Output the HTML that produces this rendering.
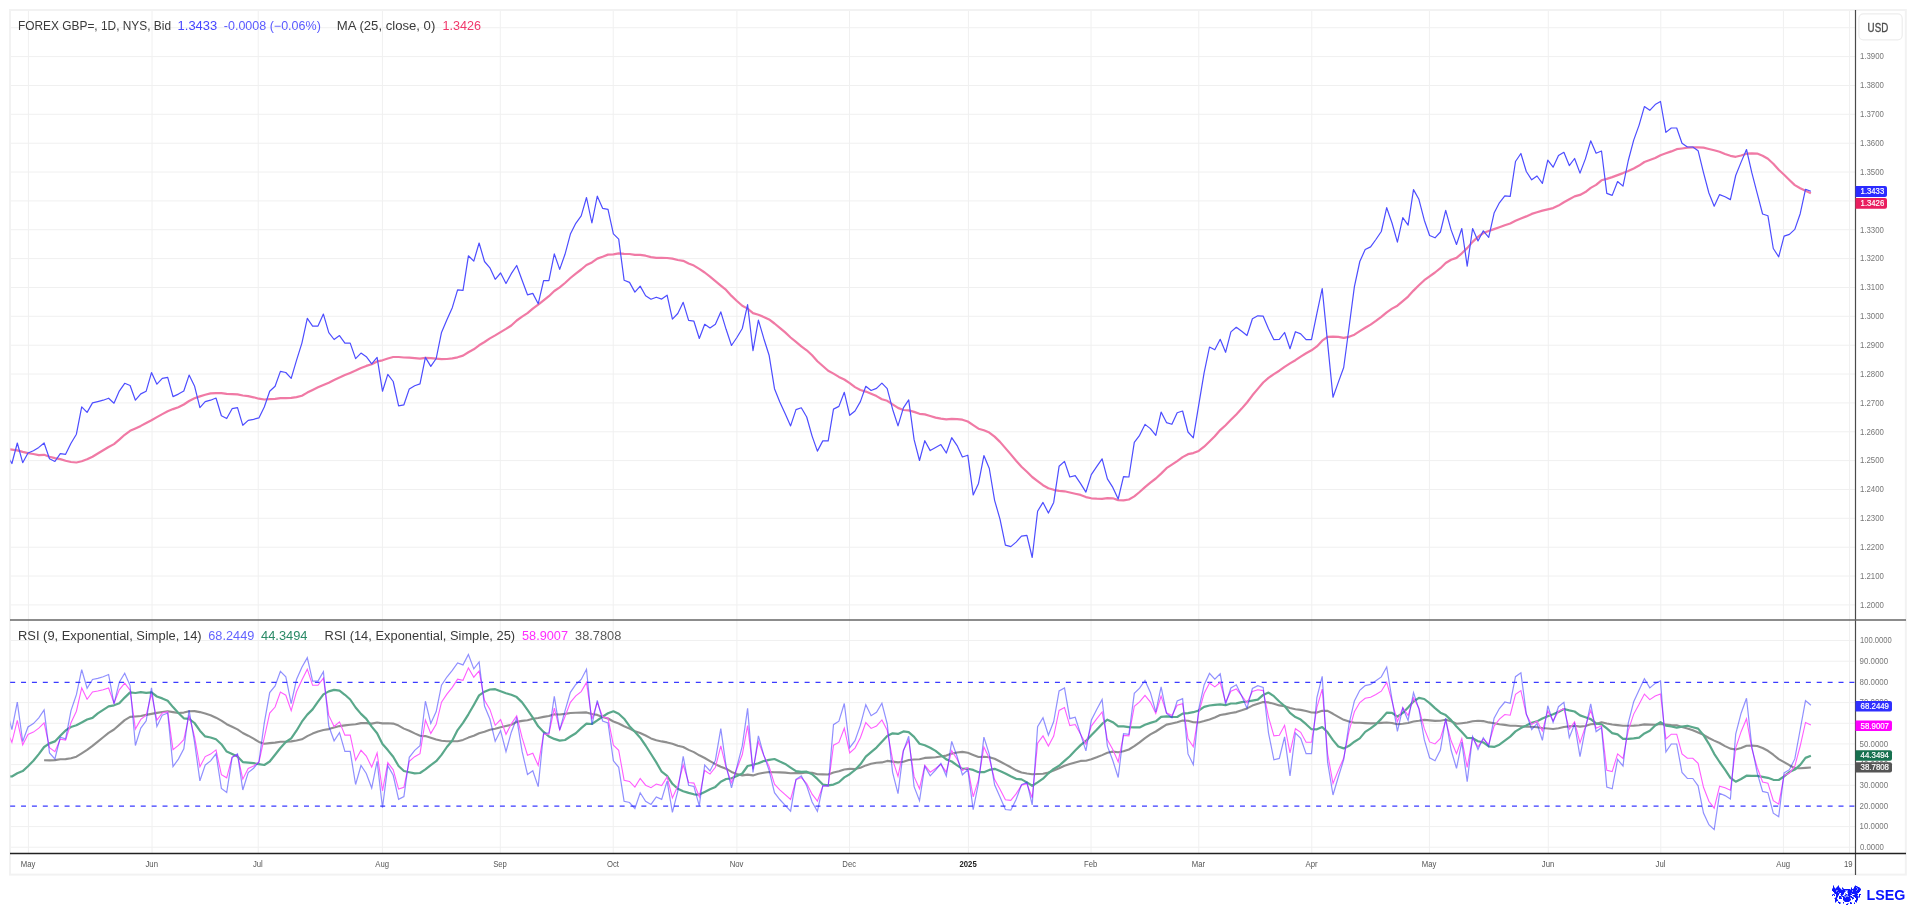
<!DOCTYPE html>
<html><head><meta charset="utf-8"><style>
html,body{margin:0;padding:0;background:#fff;width:1916px;height:905px;overflow:hidden}
svg{display:block} text{opacity:0.995}
</style></head><body>
<svg width="1916" height="905" viewBox="0 0 1916 905">
<rect x="10" y="10" width="1895.8" height="864.6" fill="none" stroke="#f2f2f2" stroke-width="2"/>
<line x1="28.4" y1="11" x2="28.4" y2="853" stroke="#f0f0f0" stroke-width="1"/>
<line x1="152.0" y1="11" x2="152.0" y2="853" stroke="#f0f0f0" stroke-width="1"/>
<line x1="258.2" y1="11" x2="258.2" y2="853" stroke="#f0f0f0" stroke-width="1"/>
<line x1="382.4" y1="11" x2="382.4" y2="853" stroke="#f0f0f0" stroke-width="1"/>
<line x1="500.3" y1="11" x2="500.3" y2="853" stroke="#f0f0f0" stroke-width="1"/>
<line x1="613.2" y1="11" x2="613.2" y2="853" stroke="#f0f0f0" stroke-width="1"/>
<line x1="736.9" y1="11" x2="736.9" y2="853" stroke="#f0f0f0" stroke-width="1"/>
<line x1="849.5" y1="11" x2="849.5" y2="853" stroke="#f0f0f0" stroke-width="1"/>
<line x1="968.4" y1="11" x2="968.4" y2="853" stroke="#f0f0f0" stroke-width="1"/>
<line x1="1091.0" y1="11" x2="1091.0" y2="853" stroke="#f0f0f0" stroke-width="1"/>
<line x1="1198.8" y1="11" x2="1198.8" y2="853" stroke="#f0f0f0" stroke-width="1"/>
<line x1="1311.8" y1="11" x2="1311.8" y2="853" stroke="#f0f0f0" stroke-width="1"/>
<line x1="1429.4" y1="11" x2="1429.4" y2="853" stroke="#f0f0f0" stroke-width="1"/>
<line x1="1548.3" y1="11" x2="1548.3" y2="853" stroke="#f0f0f0" stroke-width="1"/>
<line x1="1660.8" y1="11" x2="1660.8" y2="853" stroke="#f0f0f0" stroke-width="1"/>
<line x1="1783.4" y1="11" x2="1783.4" y2="853" stroke="#f0f0f0" stroke-width="1"/>
<line x1="1849.5" y1="11" x2="1849.5" y2="853" stroke="#f0f0f0" stroke-width="1"/>
<line x1="11" y1="604.9" x2="1855" y2="604.9" stroke="#f0f0f0" stroke-width="1"/>
<line x1="11" y1="576.0" x2="1855" y2="576.0" stroke="#f0f0f0" stroke-width="1"/>
<line x1="11" y1="547.2" x2="1855" y2="547.2" stroke="#f0f0f0" stroke-width="1"/>
<line x1="11" y1="518.3" x2="1855" y2="518.3" stroke="#f0f0f0" stroke-width="1"/>
<line x1="11" y1="489.5" x2="1855" y2="489.5" stroke="#f0f0f0" stroke-width="1"/>
<line x1="11" y1="460.6" x2="1855" y2="460.6" stroke="#f0f0f0" stroke-width="1"/>
<line x1="11" y1="431.8" x2="1855" y2="431.8" stroke="#f0f0f0" stroke-width="1"/>
<line x1="11" y1="402.9" x2="1855" y2="402.9" stroke="#f0f0f0" stroke-width="1"/>
<line x1="11" y1="374.0" x2="1855" y2="374.0" stroke="#f0f0f0" stroke-width="1"/>
<line x1="11" y1="345.2" x2="1855" y2="345.2" stroke="#f0f0f0" stroke-width="1"/>
<line x1="11" y1="316.3" x2="1855" y2="316.3" stroke="#f0f0f0" stroke-width="1"/>
<line x1="11" y1="287.5" x2="1855" y2="287.5" stroke="#f0f0f0" stroke-width="1"/>
<line x1="11" y1="258.6" x2="1855" y2="258.6" stroke="#f0f0f0" stroke-width="1"/>
<line x1="11" y1="229.7" x2="1855" y2="229.7" stroke="#f0f0f0" stroke-width="1"/>
<line x1="11" y1="200.9" x2="1855" y2="200.9" stroke="#f0f0f0" stroke-width="1"/>
<line x1="11" y1="172.0" x2="1855" y2="172.0" stroke="#f0f0f0" stroke-width="1"/>
<line x1="11" y1="143.2" x2="1855" y2="143.2" stroke="#f0f0f0" stroke-width="1"/>
<line x1="11" y1="114.3" x2="1855" y2="114.3" stroke="#f0f0f0" stroke-width="1"/>
<line x1="11" y1="85.5" x2="1855" y2="85.5" stroke="#f0f0f0" stroke-width="1"/>
<line x1="11" y1="56.6" x2="1855" y2="56.6" stroke="#f0f0f0" stroke-width="1"/>
<line x1="11" y1="27.7" x2="1855" y2="27.7" stroke="#f0f0f0" stroke-width="1"/>
<line x1="11" y1="640.5" x2="1855" y2="640.5" stroke="#f0f0f0" stroke-width="1"/>
<line x1="11" y1="661.2" x2="1855" y2="661.2" stroke="#f0f0f0" stroke-width="1"/>
<line x1="11" y1="702.6" x2="1855" y2="702.6" stroke="#f0f0f0" stroke-width="1"/>
<line x1="11" y1="723.3" x2="1855" y2="723.3" stroke="#f0f0f0" stroke-width="1"/>
<line x1="11" y1="743.9" x2="1855" y2="743.9" stroke="#f0f0f0" stroke-width="1"/>
<line x1="11" y1="764.6" x2="1855" y2="764.6" stroke="#f0f0f0" stroke-width="1"/>
<line x1="11" y1="785.3" x2="1855" y2="785.3" stroke="#f0f0f0" stroke-width="1"/>
<line x1="11" y1="826.6" x2="1855" y2="826.6" stroke="#f0f0f0" stroke-width="1"/>
<line x1="11" y1="847.2" x2="1855" y2="847.2" stroke="#f0f0f0" stroke-width="1"/>
<line x1="10.16" y1="682.4" x2="1855" y2="682.4" stroke="#3b3bff" stroke-width="1.1" stroke-dasharray="5 5.883" />
<line x1="10.16" y1="806.1" x2="1855" y2="806.1" stroke="#3b3bff" stroke-width="1.1" stroke-dasharray="5 5.883" />
<defs><clipPath id="cm"><rect x="10.3" y="11" width="1844.7" height="608"/></clipPath><clipPath id="cr"><rect x="10.3" y="621" width="1844.7" height="231"/></clipPath></defs>
<polyline clip-path="url(#cm)" points="1.2,449.4 6.6,448.9 11.9,449.6 17.3,450.4 22.7,451.9 28.0,453.1 33.4,454.0 38.8,455.1 44.1,454.8 49.5,456.7 54.9,458.1 60.3,459.1 65.6,460.7 71.0,462.0 76.4,462.5 81.7,461.2 87.1,459.3 92.5,456.7 97.8,453.5 103.2,450.2 108.6,447.0 114.0,444.1 119.3,439.6 124.7,434.8 130.1,430.8 135.4,428.4 140.8,425.9 146.2,423.0 151.5,420.2 156.9,417.1 162.3,414.1 167.7,411.2 173.0,409.1 178.4,407.2 183.8,404.5 189.1,401.0 194.5,398.3 199.9,396.4 205.2,394.8 210.6,393.4 216.0,393.1 221.4,393.2 226.7,393.8 232.1,394.1 237.5,394.4 242.8,395.5 248.2,396.2 253.6,397.3 258.9,398.7 264.3,399.5 269.7,399.2 275.1,398.9 280.4,398.1 285.8,398.1 291.2,397.8 296.5,397.1 301.9,395.7 307.3,392.6 312.6,389.9 318.0,387.3 323.4,384.9 328.8,382.7 334.1,380.0 339.5,377.4 344.9,375.1 350.2,372.9 355.6,370.6 361.0,368.0 366.3,365.9 371.7,364.2 377.1,361.4 382.5,360.3 387.8,358.5 393.2,357.0 398.6,357.0 403.9,357.5 409.3,357.6 414.7,358.2 420.0,358.7 425.4,357.8 430.8,358.1 436.2,358.7 441.5,359.2 446.9,359.0 452.3,358.3 457.6,357.3 463.0,355.6 468.4,352.2 473.8,349.3 479.1,345.3 484.5,342.0 489.9,338.4 495.2,335.4 500.6,332.1 506.0,328.9 511.3,325.5 516.7,320.5 522.1,316.7 527.5,313.2 532.8,308.7 538.2,304.7 543.6,300.4 548.9,296.2 554.3,291.0 559.7,287.4 565.0,283.0 570.4,278.0 575.8,273.6 581.2,269.5 586.5,265.0 591.9,262.4 597.3,258.6 602.6,256.7 608.0,254.6 613.4,254.3 618.7,253.4 624.1,253.9 629.5,254.0 634.9,254.8 640.2,254.9 645.6,255.7 651.0,257.1 656.3,257.8 661.7,257.9 667.1,258.0 672.4,258.6 677.8,260.0 683.2,260.8 688.6,263.5 693.9,265.6 699.3,268.9 704.7,272.5 710.0,276.7 715.4,281.1 720.8,285.6 726.1,289.9 731.5,295.9 736.9,301.0 742.3,305.8 747.6,308.6 753.0,313.1 758.4,314.7 763.7,316.9 769.1,319.4 774.5,323.5 779.8,327.8 785.2,332.4 790.6,337.5 796.0,341.9 801.3,346.4 806.7,350.3 812.1,355.3 817.4,361.2 822.8,366.0 828.2,370.8 833.5,373.6 838.9,376.9 844.3,379.5 849.7,383.1 855.0,387.1 860.4,390.0 865.8,391.6 871.1,393.7 876.5,396.1 881.9,399.3 887.2,400.8 892.6,404.4 898.0,407.9 903.4,410.0 908.7,410.4 914.1,411.9 919.5,413.8 924.8,414.4 930.2,416.0 935.6,417.6 940.9,418.7 946.3,419.4 951.7,418.9 957.1,419.1 962.4,419.7 967.8,421.5 973.2,425.1 978.5,428.7 983.9,430.3 989.3,432.6 994.6,436.6 1000.0,441.9 1005.4,448.1 1010.8,454.4 1016.1,460.8 1021.5,466.7 1026.9,471.7 1032.2,477.0 1037.6,481.1 1043.0,485.2 1048.4,488.2 1053.7,489.8 1059.1,490.9 1064.5,491.3 1069.8,492.5 1075.2,493.7 1080.6,494.9 1085.9,497.1 1091.3,498.3 1096.7,498.7 1102.1,498.8 1107.4,498.2 1112.8,498.3 1118.2,500.1 1123.5,500.4 1128.9,499.5 1134.3,496.4 1139.6,492.0 1145.0,487.1 1150.4,482.6 1155.8,478.5 1161.1,473.6 1166.5,468.2 1171.9,464.7 1177.2,461.1 1182.6,457.1 1188.0,454.2 1193.3,453.1 1198.7,450.9 1204.1,446.7 1209.5,441.5 1214.8,436.2 1220.2,430.1 1225.6,425.2 1230.9,419.8 1236.3,414.5 1241.7,408.6 1247.0,402.5 1252.4,395.3 1257.8,388.9 1263.2,382.5 1268.5,377.9 1273.9,374.1 1279.3,370.7 1284.6,366.9 1290.0,363.4 1295.4,360.2 1300.7,356.6 1306.1,353.2 1311.5,350.3 1316.9,346.4 1322.2,340.7 1327.6,336.9 1333.0,336.6 1338.3,336.9 1343.7,337.8 1349.1,336.8 1354.4,334.7 1359.8,331.1 1365.2,327.8 1370.6,324.6 1375.9,320.9 1381.3,316.8 1386.7,312.3 1392.0,308.6 1397.4,305.7 1402.8,301.2 1408.1,296.6 1413.5,290.6 1418.9,285.3 1424.3,280.2 1429.6,276.3 1435.0,272.5 1440.4,268.2 1445.7,263.0 1451.1,259.7 1456.5,257.9 1461.8,253.3 1467.2,248.1 1472.6,241.9 1478.0,236.9 1483.3,233.0 1488.7,231.0 1494.1,229.1 1499.4,227.2 1504.8,225.2 1510.2,223.5 1515.5,220.7 1520.9,218.5 1526.3,216.4 1531.7,213.9 1537.0,212.3 1542.4,210.6 1547.8,209.4 1553.1,208.1 1558.5,205.6 1563.9,202.2 1569.3,199.3 1574.6,196.4 1580.0,194.9 1585.4,192.1 1590.7,187.9 1596.1,184.9 1601.5,180.3 1606.8,178.9 1612.2,177.1 1617.6,175.1 1623.0,173.1 1628.3,171.0 1633.7,168.4 1639.1,165.6 1644.4,162.0 1649.8,160.0 1655.2,158.0 1660.5,155.2 1665.9,153.3 1671.3,151.4 1676.7,149.2 1682.0,148.5 1687.4,147.7 1692.8,147.4 1698.1,147.3 1703.5,147.6 1708.9,149.0 1714.2,150.3 1719.6,151.7 1725.0,154.0 1730.4,155.8 1735.7,156.8 1741.1,155.5 1746.5,153.7 1751.8,153.3 1757.2,153.6 1762.6,155.8 1767.9,158.8 1773.3,163.7 1778.7,169.7 1784.1,174.8 1789.4,180.0 1794.8,185.1 1800.2,188.3 1805.5,190.8 1810.9,193.3" fill="none" stroke="#f07aa5" stroke-width="2.2" stroke-linejoin="round" stroke-linejoin="round"/>
<polyline clip-path="url(#cm)" points="6.6,455.0 11.9,463.5 17.3,443.0 22.7,462.7 28.0,453.0 33.4,450.7 38.8,447.4 44.1,443.0 49.5,458.7 54.9,461.5 60.3,453.7 65.6,454.3 71.0,443.2 76.4,434.2 81.7,406.9 87.1,412.4 92.5,402.9 97.8,401.6 103.2,400.2 108.6,398.2 114.0,403.2 119.3,391.1 124.7,383.3 130.1,385.5 135.4,400.2 140.8,393.9 146.2,391.2 151.5,372.6 156.9,384.2 162.3,378.3 167.7,377.3 173.0,396.6 178.4,394.1 183.8,391.0 189.1,375.1 194.5,385.9 199.9,407.6 205.2,401.7 210.6,400.2 216.0,398.0 221.4,415.7 226.7,418.5 232.1,408.7 237.5,407.6 242.8,425.3 248.2,420.4 253.6,419.3 258.9,417.9 264.3,407.0 269.7,391.2 275.1,386.2 280.4,371.4 285.8,372.5 291.2,378.3 296.5,360.3 301.9,343.1 307.3,318.4 312.6,326.1 318.0,326.1 323.4,314.1 328.8,332.7 334.1,339.5 339.5,335.6 344.9,343.1 350.2,343.1 355.6,358.6 361.0,353.1 366.3,356.7 371.7,363.9 377.1,357.4 382.5,391.2 387.8,374.4 393.2,381.5 398.6,405.9 403.9,404.8 409.3,388.9 414.7,385.7 420.0,383.9 425.4,357.4 430.8,366.4 436.2,358.5 441.5,332.4 446.9,319.8 452.3,307.7 457.6,289.8 463.0,290.4 468.4,255.8 473.8,261.1 479.1,243.0 484.5,261.5 489.9,267.8 495.2,279.3 500.6,273.0 506.0,283.5 511.3,273.7 516.7,265.5 522.1,280.2 527.5,294.8 532.8,293.4 538.2,303.8 543.6,280.6 548.9,280.6 554.3,253.9 559.7,269.4 565.0,254.3 570.4,234.1 575.8,223.3 581.2,215.9 586.5,197.5 591.9,223.0 597.3,196.2 602.6,208.3 608.0,209.4 613.4,233.8 618.7,239.1 624.1,280.2 629.5,282.4 634.9,292.1 640.2,286.1 645.6,295.7 651.0,299.2 656.3,297.2 661.7,299.1 667.1,295.2 672.4,319.2 677.8,313.5 683.2,302.3 688.6,320.4 693.9,321.2 699.3,338.5 704.7,324.3 710.0,327.9 715.4,324.3 720.8,311.9 726.1,329.3 731.5,345.5 736.9,337.5 742.3,328.5 747.6,304.7 753.0,350.6 758.4,320.1 763.7,338.2 769.1,355.2 774.5,388.7 779.8,402.0 785.2,413.7 790.6,425.9 796.0,409.6 801.3,407.8 806.7,417.0 812.1,436.1 817.4,451.1 822.8,440.9 828.2,440.9 833.5,409.1 838.9,406.4 844.3,392.3 849.7,415.3 855.0,411.0 860.4,401.6 865.8,386.3 871.1,390.5 876.5,388.4 881.9,383.1 887.2,388.7 892.6,409.2 898.0,425.9 903.4,407.8 908.7,399.9 914.1,439.7 919.5,460.5 924.8,440.7 930.2,450.6 935.6,447.6 940.9,444.6 946.3,453.0 951.7,437.7 957.1,445.6 962.4,457.0 967.8,455.2 973.2,494.9 978.5,483.4 983.9,455.6 989.3,468.5 994.6,500.3 1000.0,519.2 1005.4,545.1 1010.8,546.6 1016.1,542.1 1021.5,536.2 1026.9,535.3 1032.2,557.5 1037.6,511.2 1043.0,502.4 1048.4,513.1 1053.7,502.4 1059.1,466.3 1064.5,461.4 1069.8,477.0 1075.2,475.7 1080.6,483.6 1085.9,492.1 1091.3,474.6 1096.7,466.7 1102.1,458.8 1107.4,478.9 1112.8,487.4 1118.2,499.0 1123.5,476.7 1128.9,477.0 1134.3,442.3 1139.6,435.3 1145.0,424.4 1150.4,428.6 1155.8,435.3 1161.1,412.1 1166.5,422.6 1171.9,424.3 1177.2,412.7 1182.6,411.0 1188.0,432.0 1193.3,437.9 1198.7,405.2 1204.1,372.8 1209.5,347.0 1214.8,349.8 1220.2,339.3 1225.6,352.3 1230.9,331.9 1236.3,327.3 1241.7,331.3 1247.0,335.5 1252.4,318.7 1257.8,315.8 1263.2,316.2 1268.5,328.8 1273.9,339.7 1279.3,339.3 1284.6,332.5 1290.0,348.7 1295.4,331.7 1300.7,333.9 1306.1,339.7 1311.5,339.7 1316.9,313.4 1322.2,288.5 1327.6,342.9 1333.0,397.2 1338.3,382.4 1343.7,367.5 1349.1,327.0 1354.4,286.7 1359.8,261.5 1365.2,249.5 1370.6,246.9 1375.9,239.5 1381.3,231.5 1386.7,207.7 1392.0,223.0 1397.4,242.1 1402.8,217.7 1408.1,225.2 1413.5,189.6 1418.9,199.3 1424.3,220.2 1429.6,235.5 1435.0,237.8 1440.4,232.0 1445.7,210.4 1451.1,229.9 1456.5,244.5 1461.8,228.5 1467.2,266.1 1472.6,228.5 1478.0,241.0 1483.3,230.8 1488.7,237.3 1494.1,213.1 1499.4,202.8 1504.8,195.8 1510.2,196.3 1515.5,161.5 1520.9,153.5 1526.3,171.5 1531.7,179.8 1537.0,176.0 1542.4,183.4 1547.8,160.1 1553.1,167.2 1558.5,155.6 1563.9,152.3 1569.3,165.6 1574.6,158.5 1580.0,173.1 1585.4,158.9 1590.7,140.8 1596.1,153.2 1601.5,151.0 1606.8,193.4 1612.2,195.4 1617.6,181.5 1623.0,186.1 1628.3,160.5 1633.7,140.1 1639.1,125.1 1644.4,106.6 1649.8,110.3 1655.2,104.6 1660.5,101.5 1665.9,132.4 1671.3,128.0 1676.7,128.0 1682.0,143.2 1687.4,147.0 1692.8,147.0 1698.1,150.7 1703.5,172.6 1708.9,193.0 1714.2,206.2 1719.6,194.6 1725.0,196.8 1730.4,199.6 1735.7,175.5 1741.1,162.1 1746.5,149.5 1751.8,172.7 1757.2,193.3 1762.6,214.0 1767.9,215.7 1773.3,248.5 1778.7,256.8 1784.1,236.1 1789.4,234.4 1794.8,229.4 1800.2,213.7 1805.5,189.3 1810.9,191.3" fill="none" stroke="#4d4dff" stroke-width="1.2" stroke-linejoin="round"/>
<polyline clip-path="url(#cr)" points="44.1,760.3 49.5,760.4 54.9,760.1 60.3,759.2 65.6,759.1 71.0,758.3 76.4,756.7 81.7,753.4 87.1,749.9 92.5,745.9 97.8,741.6 103.2,737.2 108.6,732.9 114.0,729.5 119.3,724.9 124.7,720.1 130.1,716.9 135.4,716.5 140.8,716.0 146.2,714.9 151.5,713.9 156.9,712.9 162.3,712.0 167.7,711.2 173.0,712.1 178.4,713.0 183.8,712.6 189.1,711.2 194.5,711.1 199.9,712.1 205.2,713.5 210.6,715.2 216.0,717.7 221.4,720.7 226.7,724.2 232.1,726.8 237.5,729.4 242.8,733.0 248.2,735.7 253.6,738.7 258.9,741.9 264.3,743.8 269.7,743.1 275.1,742.6 280.4,741.7 285.8,741.8 291.2,741.4 296.5,740.5 301.9,739.3 307.3,736.1 312.6,733.6 318.0,731.5 323.4,730.0 328.8,729.1 334.1,727.5 339.5,726.1 344.9,725.4 350.2,724.8 355.6,724.2 361.0,723.1 366.3,723.1 371.7,723.6 377.1,722.5 382.5,723.4 387.8,723.3 393.2,723.6 398.6,725.6 403.9,728.6 409.3,730.8 414.7,733.4 420.0,735.7 425.4,736.1 430.8,737.7 436.2,739.5 441.5,740.8 446.9,741.2 452.3,741.3 457.6,741.3 463.0,739.9 468.4,737.6 473.8,735.8 479.1,733.2 484.5,731.8 489.9,729.8 495.2,728.8 500.6,727.3 506.0,726.0 511.3,724.8 516.7,721.9 522.1,720.9 527.5,720.3 532.8,718.8 538.2,718.0 543.6,716.9 548.9,716.0 554.3,714.2 559.7,714.5 565.0,713.9 570.4,713.0 575.8,712.7 581.2,712.6 586.5,712.4 591.9,714.0 597.3,714.9 602.6,716.9 608.0,718.5 613.4,721.5 618.7,723.5 624.1,726.3 629.5,728.6 634.9,731.3 640.2,733.0 645.6,735.5 651.0,738.4 656.3,740.2 661.7,741.4 667.1,742.4 672.4,743.7 677.8,745.7 683.2,747.0 688.6,749.9 693.9,752.1 699.3,755.3 704.7,758.0 710.0,761.1 715.4,764.2 720.8,766.7 726.1,768.7 731.5,771.9 736.9,773.9 742.3,775.4 747.6,774.6 753.0,775.4 758.4,773.8 763.7,772.8 769.1,772.0 774.5,772.2 779.8,772.4 785.2,772.6 790.6,773.3 796.0,773.0 801.3,773.1 806.7,772.5 812.1,772.8 817.4,774.3 822.8,774.4 828.2,774.5 833.5,772.5 838.9,771.3 844.3,769.5 849.7,768.9 855.0,769.0 860.4,767.8 865.8,765.4 871.1,763.8 876.5,762.7 881.9,762.4 887.2,760.9 892.6,761.6 898.0,762.4 903.4,761.8 908.7,760.0 914.1,759.5 919.5,759.3 924.8,757.9 930.2,757.6 935.6,757.2 940.9,756.5 946.3,755.6 951.7,753.6 957.1,752.5 962.4,751.9 967.8,752.8 973.2,754.9 978.5,757.0 983.9,756.8 989.3,757.2 994.6,758.8 1000.0,761.5 1005.4,764.4 1010.8,767.3 1016.1,770.3 1021.5,772.5 1026.9,773.5 1032.2,774.3 1037.6,774.0 1043.0,773.8 1048.4,772.6 1053.7,770.5 1059.1,768.3 1064.5,765.7 1069.8,764.0 1075.2,762.4 1080.6,760.9 1085.9,760.7 1091.3,759.3 1096.7,757.3 1102.1,755.1 1107.4,752.8 1112.8,751.6 1118.2,752.2 1123.5,751.2 1128.9,749.5 1134.3,746.2 1139.6,742.3 1145.0,738.1 1150.4,734.4 1155.8,731.5 1161.1,728.0 1166.5,724.6 1171.9,723.5 1177.2,722.3 1182.6,720.6 1188.0,720.7 1193.3,722.2 1198.7,722.4 1204.1,721.1 1209.5,719.4 1214.8,717.5 1220.2,715.0 1225.6,714.1 1230.9,713.0 1236.3,712.1 1241.7,710.3 1247.0,708.4 1252.4,705.6 1257.8,703.8 1263.2,702.0 1268.5,702.4 1273.9,703.8 1279.3,705.4 1284.6,706.3 1290.0,707.9 1295.4,709.2 1300.7,709.9 1306.1,711.0 1311.5,712.5 1316.9,712.6 1322.2,710.7 1327.6,710.9 1333.0,713.8 1338.3,716.8 1343.7,719.8 1349.1,721.6 1354.4,722.8 1359.8,722.8 1365.2,723.1 1370.6,723.4 1375.9,723.3 1381.3,722.9 1386.7,722.5 1392.0,723.0 1397.4,724.2 1402.8,723.8 1408.1,723.0 1413.5,721.5 1418.9,720.8 1424.3,719.9 1429.6,720.4 1435.0,720.9 1440.4,720.7 1445.7,719.8 1451.1,721.2 1456.5,723.8 1461.8,723.2 1467.2,722.5 1472.6,721.2 1478.0,720.8 1483.3,721.1 1488.7,722.4 1494.1,723.3 1499.4,724.2 1504.8,724.9 1510.2,725.7 1515.5,725.8 1520.9,726.2 1526.3,726.7 1531.7,726.8 1537.0,727.3 1542.4,728.0 1547.8,728.5 1553.1,729.0 1558.5,728.3 1563.9,727.0 1569.3,726.4 1574.6,725.7 1580.0,726.6 1585.4,726.0 1590.7,724.3 1596.1,723.9 1601.5,722.2 1606.8,723.5 1612.2,724.5 1617.6,725.1 1623.0,725.7 1628.3,725.8 1633.7,725.6 1639.1,725.2 1644.4,724.4 1649.8,724.6 1655.2,724.8 1660.5,724.0 1665.9,724.6 1671.3,725.1 1676.7,725.2 1682.0,726.9 1687.4,728.4 1692.8,730.3 1698.1,732.5 1703.5,734.8 1708.9,738.0 1714.2,740.6 1719.6,743.0 1725.0,746.1 1730.4,748.6 1735.7,749.5 1741.1,747.9 1746.5,745.8 1751.8,745.6 1757.2,746.0 1762.6,748.0 1767.9,750.8 1773.3,754.7 1778.7,759.1 1784.1,762.1 1789.4,765.2 1794.8,768.1 1800.2,768.3 1805.5,767.9 1810.9,767.5" fill="none" stroke="#8f8f8f" stroke-width="2.1" stroke-linejoin="round"/>
<polyline clip-path="url(#cr)" points="1.2,777.5 6.6,776.2 11.9,776.5 17.3,773.3 22.7,771.1 28.0,766.2 33.4,760.7 38.8,754.1 44.1,747.0 49.5,743.4 54.9,741.4 60.3,735.8 65.6,730.4 71.0,727.0 76.4,725.3 81.7,722.5 87.1,719.5 92.5,717.9 97.8,713.4 103.2,709.8 108.6,706.3 114.0,705.3 119.3,703.3 124.7,697.6 130.1,692.4 135.4,693.0 140.8,692.2 146.2,692.9 151.5,692.4 156.9,696.5 162.3,698.4 167.7,700.8 173.0,707.1 178.4,713.0 183.8,718.3 189.1,718.8 194.5,723.0 199.9,730.7 205.2,736.4 210.6,737.5 216.0,739.3 221.4,744.2 226.7,751.6 232.1,753.9 237.5,756.6 242.8,762.1 248.2,762.6 253.6,763.2 258.9,764.1 264.3,765.0 269.7,761.5 275.1,754.7 280.4,748.0 285.8,742.0 291.2,738.4 296.5,730.7 301.9,721.7 307.3,714.6 312.6,709.4 318.0,701.6 323.4,694.4 328.8,691.4 334.1,689.9 339.5,690.6 344.9,694.8 350.2,699.5 355.6,707.5 361.0,713.9 366.3,718.9 371.7,726.6 377.1,733.3 382.5,744.1 387.8,750.1 393.2,756.8 398.6,766.0 403.9,771.0 409.3,772.2 414.7,773.4 420.0,773.0 425.4,769.4 430.8,765.1 436.2,761.2 441.5,754.9 446.9,747.0 452.3,740.5 457.6,730.1 463.0,722.9 468.4,714.3 473.8,705.0 479.1,695.4 484.5,691.7 489.9,689.5 495.2,689.2 500.6,691.3 506.0,693.3 511.3,694.8 516.7,697.1 522.1,702.4 527.5,709.9 532.8,717.6 538.2,726.3 543.6,731.9 548.9,736.4 554.3,738.9 559.7,740.6 565.0,740.0 570.4,736.5 575.8,733.2 581.2,728.1 586.5,723.6 591.9,724.0 597.3,720.4 602.6,716.6 608.0,713.2 613.4,711.3 618.7,713.8 624.1,718.7 629.5,726.2 634.9,731.8 640.2,737.7 645.6,745.5 651.0,754.0 656.3,762.4 661.7,771.7 667.1,775.8 672.4,783.8 677.8,788.8 683.2,791.2 688.6,792.9 693.9,794.3 699.3,794.6 704.7,791.9 710.0,789.2 715.4,786.9 720.8,781.7 726.1,779.0 731.5,778.3 736.9,776.0 742.3,773.5 747.6,766.0 753.0,764.7 758.4,763.3 763.7,761.1 769.1,759.9 774.5,759.0 779.8,761.5 785.2,763.9 790.6,767.6 796.0,771.2 801.3,771.9 806.7,771.7 812.1,774.2 817.4,778.9 822.8,784.5 828.2,785.4 833.5,784.6 838.9,782.2 844.3,777.4 849.7,774.2 855.0,770.0 860.4,764.3 865.8,756.7 871.1,752.1 876.5,747.6 881.9,741.7 887.2,736.1 892.6,733.3 898.0,733.9 903.4,731.4 908.7,732.2 914.1,736.9 919.5,743.8 924.8,745.2 930.2,747.7 935.6,750.9 940.9,755.1 946.3,759.4 951.7,761.5 957.1,765.3 962.4,768.9 967.8,768.7 973.2,769.9 978.5,772.2 983.9,772.2 989.3,769.9 994.6,768.8 1000.0,771.0 1005.4,773.4 1010.8,776.2 1016.1,778.8 1021.5,779.4 1026.9,782.4 1032.2,785.8 1037.6,782.4 1043.0,778.7 1048.4,773.3 1053.7,768.9 1059.1,765.7 1064.5,760.9 1069.8,756.2 1075.2,750.5 1080.6,745.1 1085.9,740.9 1091.3,735.2 1096.7,729.8 1102.1,723.9 1107.4,719.7 1112.8,722.2 1118.2,726.4 1123.5,726.3 1128.9,727.2 1134.3,727.4 1139.6,727.4 1145.0,724.7 1150.4,722.9 1155.8,721.3 1161.1,716.8 1166.5,716.3 1171.9,716.9 1177.2,717.0 1182.6,713.6 1188.0,713.1 1193.3,712.2 1198.7,710.5 1204.1,706.9 1209.5,705.5 1214.8,704.9 1220.2,704.4 1225.6,705.2 1230.9,703.5 1236.3,703.4 1241.7,702.1 1247.0,701.5 1252.4,700.6 1257.8,699.6 1263.2,694.9 1268.5,692.6 1273.9,696.2 1279.3,701.5 1284.6,706.0 1290.0,712.9 1295.4,717.1 1300.7,719.6 1306.1,724.2 1311.5,729.2 1316.9,729.3 1322.2,727.0 1327.6,732.3 1333.0,740.1 1338.3,746.5 1343.7,748.4 1349.1,745.8 1354.4,741.7 1359.8,738.4 1365.2,731.9 1370.6,728.4 1375.9,724.3 1381.3,718.9 1386.7,712.7 1392.0,712.8 1397.4,716.7 1402.8,712.9 1408.1,707.5 1413.5,701.5 1418.9,697.9 1424.3,699.0 1429.6,703.1 1435.0,708.1 1440.4,712.7 1445.7,715.1 1451.1,720.1 1456.5,726.6 1461.8,732.0 1467.2,737.9 1472.6,738.2 1478.0,741.2 1483.3,742.4 1488.7,746.3 1494.1,746.9 1499.4,744.7 1504.8,740.7 1510.2,736.6 1515.5,731.4 1520.9,728.1 1526.3,725.5 1531.7,722.7 1537.0,721.4 1542.4,718.5 1547.8,716.3 1553.1,714.3 1558.5,712.1 1563.9,709.0 1569.3,710.4 1574.6,711.5 1580.0,715.4 1585.4,717.2 1590.7,719.1 1596.1,723.3 1601.5,724.3 1606.8,728.4 1612.2,733.1 1617.6,734.4 1623.0,738.8 1628.3,738.8 1633.7,738.4 1639.1,737.6 1644.4,733.4 1649.8,730.8 1655.2,725.5 1660.5,722.1 1665.9,725.6 1671.3,726.5 1676.7,727.6 1682.0,726.6 1687.4,725.8 1692.8,727.2 1698.1,728.6 1703.5,735.1 1708.9,743.8 1714.2,753.8 1719.6,762.0 1725.0,769.7 1730.4,777.9 1735.7,781.7 1741.1,779.0 1746.5,775.7 1751.8,775.9 1757.2,775.9 1762.6,776.8 1767.9,777.8 1773.3,779.8 1778.7,780.0 1784.1,776.3 1789.4,772.1 1794.8,769.6 1800.2,764.9 1805.5,757.9 1810.9,755.8" fill="none" stroke="#5aa88b" stroke-width="2.2" stroke-linejoin="round"/>
<polyline clip-path="url(#cr)" points="1.2,738.5 6.6,730.8 11.9,742.3 17.3,720.3 22.7,744.8 28.0,734.5 33.4,732.1 38.8,728.2 44.1,722.9 49.5,747.7 54.9,751.6 60.3,739.2 65.6,740.1 71.0,722.8 76.4,711.2 81.7,687.9 87.1,699.3 92.5,692.0 97.8,691.0 103.2,689.8 108.6,688.0 114.0,703.3 119.3,689.9 124.7,683.2 130.1,690.2 135.4,729.0 140.8,719.4 146.2,715.2 151.5,693.7 156.9,720.1 162.3,712.9 167.7,711.6 173.0,749.7 178.4,745.4 183.8,739.7 189.1,715.4 194.5,736.5 199.9,766.7 205.2,756.6 210.6,754.1 216.0,749.9 221.4,774.6 226.7,777.8 232.1,757.1 237.5,754.8 242.8,779.2 248.2,768.5 253.6,765.9 258.9,762.3 264.3,737.7 269.7,713.1 275.1,707.0 280.4,692.1 285.8,695.2 291.2,710.6 296.5,691.8 301.9,680.0 307.3,669.2 312.6,685.3 318.0,685.3 323.4,678.2 328.8,715.4 334.1,726.5 339.5,721.9 344.9,735.1 350.2,735.1 355.6,760.3 361.0,750.3 366.3,756.1 371.7,767.1 377.1,753.0 382.5,790.9 387.8,762.6 393.2,769.8 398.6,789.1 403.9,787.3 409.3,761.3 414.7,756.7 420.0,753.6 425.4,720.1 430.8,733.4 436.2,724.4 441.5,702.1 446.9,694.1 452.3,687.4 457.6,679.1 463.0,680.3 468.4,667.9 473.8,677.2 479.1,671.0 484.5,700.4 489.9,709.4 495.2,725.3 500.6,719.6 506.0,734.3 511.3,723.9 516.7,715.9 522.1,737.7 527.5,755.2 532.8,753.2 538.2,765.4 543.6,734.1 548.9,734.1 554.3,708.2 559.7,730.0 565.0,716.5 570.4,702.3 575.8,695.8 581.2,691.6 586.5,682.5 591.9,719.1 597.3,702.5 602.6,716.8 608.0,718.2 613.4,745.2 618.7,750.3 624.1,780.2 629.5,781.4 634.9,787.1 640.2,778.5 645.6,785.2 651.0,787.7 656.3,784.0 661.7,785.6 667.1,777.0 672.4,797.9 677.8,786.0 683.2,764.8 688.6,782.5 693.9,783.1 699.3,796.8 704.7,770.5 710.0,774.1 715.4,767.3 720.8,745.9 726.1,767.6 731.5,782.6 736.9,768.8 742.3,754.5 747.6,725.6 753.0,769.5 758.4,741.6 763.7,755.2 769.1,766.5 774.5,784.1 779.8,789.8 785.2,794.7 790.6,799.5 796.0,779.8 801.3,777.6 806.7,783.5 812.1,794.2 817.4,801.2 822.8,786.0 828.2,786.0 833.5,745.2 838.9,742.4 844.3,728.2 849.7,752.9 855.0,748.1 860.4,737.7 865.8,722.6 871.1,728.4 876.5,726.1 881.9,720.0 887.2,730.3 892.6,759.7 898.0,776.3 903.4,750.2 908.7,740.4 914.1,776.7 919.5,788.7 924.8,765.3 930.2,772.2 935.6,768.5 940.9,764.4 946.3,772.1 951.7,750.6 957.1,759.2 962.4,770.4 967.8,767.5 973.2,796.8 978.5,779.7 983.9,747.1 989.3,758.3 994.6,779.6 1000.0,789.2 1005.4,799.8 1010.8,800.4 1016.1,793.9 1021.5,785.2 1026.9,783.7 1032.2,797.7 1037.6,743.2 1043.0,735.9 1048.4,746.0 1053.7,736.0 1059.1,710.4 1064.5,707.6 1069.8,725.6 1075.2,724.5 1080.6,734.2 1085.9,744.3 1091.3,726.1 1096.7,718.9 1102.1,712.0 1107.4,739.8 1112.8,749.6 1118.2,761.9 1123.5,735.4 1128.9,735.9 1134.3,706.3 1139.6,701.9 1145.0,695.3 1150.4,702.1 1155.8,713.5 1161.1,696.2 1166.5,712.8 1171.9,715.5 1177.2,705.2 1182.6,703.8 1188.0,738.8 1193.3,746.7 1198.7,712.8 1204.1,693.5 1209.5,683.0 1214.8,686.9 1220.2,682.5 1225.6,702.1 1230.9,691.2 1236.3,689.0 1241.7,695.6 1247.0,703.0 1252.4,691.5 1257.8,689.7 1263.2,690.6 1268.5,717.1 1273.9,735.8 1279.3,735.2 1284.6,725.3 1290.0,752.8 1295.4,728.7 1300.7,732.3 1306.1,742.3 1311.5,742.3 1316.9,707.4 1322.2,689.1 1327.6,753.5 1333.0,783.5 1338.3,770.4 1343.7,758.0 1349.1,730.8 1354.4,711.8 1359.8,702.5 1365.2,698.3 1370.6,697.3 1375.9,694.4 1381.3,691.2 1386.7,682.4 1392.0,701.1 1397.4,721.6 1402.8,707.7 1408.1,715.6 1413.5,697.7 1418.9,708.2 1424.3,728.7 1429.6,741.9 1435.0,743.9 1440.4,738.5 1445.7,720.6 1451.1,740.8 1456.5,753.8 1461.8,738.6 1467.2,767.4 1472.6,737.7 1478.0,746.7 1483.3,739.1 1488.7,744.5 1494.1,726.1 1499.4,719.2 1504.8,714.5 1510.2,715.2 1515.5,694.3 1520.9,690.6 1526.3,714.5 1531.7,724.4 1537.0,721.1 1542.4,731.1 1547.8,710.9 1553.1,720.8 1558.5,711.2 1563.9,708.5 1569.3,729.3 1574.6,721.8 1580.0,742.8 1585.4,726.6 1590.7,710.3 1596.1,728.2 1601.5,725.8 1606.8,770.2 1612.2,771.6 1617.6,753.9 1623.0,758.5 1628.3,730.3 1633.7,714.1 1639.1,704.3 1644.4,694.1 1649.8,699.6 1655.2,696.1 1660.5,694.1 1665.9,738.8 1671.3,734.2 1676.7,734.2 1682.0,753.9 1687.4,758.3 1692.8,758.3 1698.1,763.4 1703.5,787.3 1708.9,801.3 1714.2,808.2 1719.6,786.2 1725.0,787.8 1730.4,790.2 1735.7,748.2 1741.1,731.7 1746.5,718.7 1751.8,748.6 1757.2,767.5 1762.6,782.0 1767.9,783.1 1773.3,800.7 1778.7,804.1 1784.1,775.3 1789.4,773.2 1794.8,766.2 1800.2,746.0 1805.5,722.5 1810.9,725.0" fill="none" stroke="#ff5cff" stroke-width="1.1"/>
<polyline clip-path="url(#cr)" points="1.2,718.2 6.6,709.3 11.9,729.7 17.3,702.1 22.7,741.5 28.0,727.0 33.4,723.6 38.8,717.9 44.1,710.0 49.5,752.9 54.9,758.9 60.3,737.2 65.6,738.9 71.0,710.6 76.4,694.7 81.7,669.7 87.1,688.2 92.5,679.5 97.8,678.3 103.2,676.8 108.6,674.5 114.0,703.8 119.3,682.2 124.7,673.3 130.1,685.6 135.4,745.5 140.8,728.1 146.2,720.8 151.5,687.8 156.9,726.5 162.3,715.1 167.7,713.0 173.0,766.6 178.4,759.1 183.8,748.9 189.1,710.2 194.5,741.9 199.9,780.8 205.2,765.0 210.6,760.9 216.0,753.8 221.4,788.5 226.7,792.5 232.1,757.6 237.5,753.9 242.8,790.0 248.2,772.5 253.6,768.2 258.9,761.8 264.3,722.8 269.7,692.6 275.1,685.9 280.4,671.4 285.8,676.7 291.2,703.7 296.5,679.5 301.9,667.3 307.3,657.6 312.6,681.1 318.0,681.1 323.4,671.7 328.8,726.0 334.1,740.8 339.5,732.7 344.9,751.4 350.2,751.4 355.6,784.5 361.0,765.5 366.3,773.5 371.7,788.0 377.1,761.3 382.5,807.8 387.8,765.6 393.2,775.3 398.6,799.4 403.9,796.6 409.3,757.3 414.7,750.4 420.0,745.8 425.4,701.2 430.8,723.5 436.2,711.5 441.5,685.2 446.9,677.0 452.3,670.4 457.6,662.9 463.0,664.9 468.4,654.5 473.8,668.9 479.1,662.0 484.5,706.0 489.9,719.0 495.2,741.3 500.6,730.6 506.0,751.7 511.3,732.2 516.7,718.2 522.1,751.4 527.5,774.5 532.8,770.7 538.2,786.6 543.6,733.0 548.9,733.0 554.3,696.3 559.7,730.1 565.0,710.8 570.4,692.3 575.8,684.5 581.2,679.5 586.5,669.3 591.9,724.8 597.3,700.3 602.6,721.0 608.0,722.9 613.4,760.8 618.7,767.3 624.1,801.3 629.5,802.5 634.9,808.5 640.2,792.8 645.6,801.3 651.0,804.4 656.3,796.9 661.7,799.4 667.1,781.2 672.4,812.3 677.8,791.1 683.2,756.4 688.6,785.3 693.9,786.4 699.3,805.8 704.7,765.0 710.0,770.9 715.4,760.2 720.8,728.7 726.1,766.0 731.5,787.9 736.9,766.8 742.3,745.8 747.6,708.4 753.0,772.5 758.4,735.9 763.7,754.9 769.1,770.3 774.5,792.7 779.8,799.5 785.2,805.3 790.6,811.1 796.0,779.3 801.3,775.9 806.7,785.8 812.1,802.0 817.4,811.3 822.8,785.8 828.2,785.8 833.5,724.7 838.9,721.2 844.3,703.5 849.7,747.7 855.0,740.6 860.4,725.1 865.8,704.7 871.1,715.7 876.5,712.2 881.9,703.3 887.2,723.8 892.6,772.3 898.0,793.6 903.4,751.0 908.7,736.3 914.1,786.7 919.5,800.6 924.8,766.2 930.2,775.8 935.6,770.0 940.9,763.5 946.3,776.1 951.7,741.4 957.1,756.5 962.4,774.8 967.8,769.7 973.2,809.7 978.5,783.0 983.9,737.1 989.3,754.4 994.6,784.7 1000.0,796.9 1005.4,809.5 1010.8,810.2 1016.1,799.4 1021.5,784.8 1026.9,782.2 1032.2,804.9 1037.6,726.6 1043.0,717.8 1048.4,735.1 1053.7,721.5 1059.1,691.0 1064.5,688.0 1069.8,718.7 1075.2,717.2 1080.6,734.1 1085.9,750.9 1091.3,720.3 1096.7,709.5 1102.1,699.5 1107.4,746.1 1112.8,760.5 1118.2,777.5 1123.5,733.6 1128.9,734.4 1134.3,693.4 1139.6,688.2 1145.0,680.5 1150.4,692.4 1155.8,712.0 1161.1,686.8 1166.5,713.4 1171.9,717.7 1177.2,701.0 1182.6,698.7 1188.0,753.9 1193.3,764.7 1198.7,709.4 1204.1,685.0 1209.5,673.4 1214.8,679.2 1220.2,673.8 1225.6,704.4 1230.9,688.0 1236.3,684.8 1241.7,695.9 1247.0,708.3 1252.4,688.5 1257.8,685.7 1263.2,687.4 1268.5,732.8 1273.9,759.8 1279.3,758.4 1284.6,736.9 1290.0,776.0 1295.4,733.0 1300.7,738.4 1306.1,753.6 1311.5,753.6 1316.9,697.5 1322.2,676.4 1327.6,762.2 1333.0,795.0 1338.3,777.0 1343.7,759.7 1349.1,723.6 1354.4,700.9 1359.8,690.3 1365.2,685.6 1370.6,684.4 1375.9,680.8 1381.3,676.9 1386.7,667.0 1392.0,699.3 1397.4,731.4 1402.8,708.0 1408.1,720.4 1413.5,692.6 1418.9,709.0 1424.3,739.7 1429.6,757.9 1435.0,760.7 1440.4,750.0 1445.7,718.1 1451.1,750.0 1456.5,768.4 1461.8,742.1 1467.2,781.6 1472.6,736.5 1478.0,749.5 1483.3,737.8 1488.7,746.4 1494.1,718.1 1499.4,708.5 1504.8,702.0 1510.2,703.3 1515.5,676.7 1520.9,672.8 1526.3,713.6 1531.7,729.5 1537.0,723.7 1542.4,740.3 1547.8,705.8 1553.1,722.3 1558.5,706.7 1563.9,702.4 1569.3,737.6 1574.6,724.1 1580.0,756.7 1585.4,728.4 1590.7,703.8 1596.1,731.6 1601.5,727.7 1606.8,787.1 1612.2,788.8 1617.6,759.4 1623.0,766.1 1628.3,722.8 1633.7,701.7 1639.1,690.1 1644.4,678.8 1649.8,687.9 1655.2,683.4 1660.5,680.9 1665.9,751.9 1671.3,744.0 1676.7,744.0 1682.0,772.5 1687.4,778.5 1692.8,778.5 1698.1,785.8 1703.5,813.0 1708.9,824.7 1714.2,829.6 1719.6,793.3 1725.0,795.6 1730.4,799.0 1735.7,734.0 1741.1,713.2 1746.5,698.2 1751.8,746.3 1757.2,772.8 1762.6,791.4 1767.9,792.7 1773.3,813.2 1778.7,816.8 1784.1,772.9 1789.4,769.7 1794.8,758.9 1800.2,729.5 1805.5,700.6 1810.9,705.3" fill="none" stroke="#2222ff" stroke-opacity="0.5" stroke-width="1.2"/>
<line x1="1855.5" y1="10" x2="1855.5" y2="875" stroke="#4a4a4a" stroke-width="1.2"/>
<line x1="10" y1="620" x2="1906" y2="620" stroke="#666" stroke-width="1.6"/>
<line x1="10" y1="853.5" x2="1906" y2="853.5" stroke="#222" stroke-width="1.3"/>
<text x="18.0" y="29.7" font-size="12" fill="#3a3a3a" font-family="Liberation Sans, sans-serif" textLength="153.0" lengthAdjust="spacingAndGlyphs" >FOREX GBP=, 1D, NYS, Bid</text>
<text x="177.6" y="29.7" font-size="12" fill="#4646ff" font-family="Liberation Sans, sans-serif" textLength="39.6" lengthAdjust="spacingAndGlyphs" >1.3433</text>
<text x="223.8" y="29.7" font-size="12" fill="#5a5aff" font-family="Liberation Sans, sans-serif" textLength="97.0" lengthAdjust="spacingAndGlyphs" >-0.0008 (−0.06%)</text>
<text x="336.8" y="29.7" font-size="12" fill="#3a3a3a" font-family="Liberation Sans, sans-serif" textLength="98.5" lengthAdjust="spacingAndGlyphs" >MA (25, close, 0)</text>
<text x="442.4" y="29.7" font-size="12" fill="#f0386b" font-family="Liberation Sans, sans-serif" textLength="38.6" lengthAdjust="spacingAndGlyphs" >1.3426</text>
<text x="18.0" y="640.4" font-size="12" fill="#3a3a3a" font-family="Liberation Sans, sans-serif" textLength="183.6" lengthAdjust="spacingAndGlyphs" >RSI (9, Exponential, Simple, 14)</text>
<text x="208.3" y="640.4" font-size="12" fill="#6464ff" font-family="Liberation Sans, sans-serif" textLength="46.0" lengthAdjust="spacingAndGlyphs" >68.2449</text>
<text x="261.0" y="640.4" font-size="12" fill="#2a8a66" font-family="Liberation Sans, sans-serif" textLength="46.5" lengthAdjust="spacingAndGlyphs" >44.3494</text>
<text x="324.6" y="640.4" font-size="12" fill="#3a3a3a" font-family="Liberation Sans, sans-serif" textLength="190.5" lengthAdjust="spacingAndGlyphs" >RSI (14, Exponential, Simple, 25)</text>
<text x="522.0" y="640.4" font-size="12" fill="#ff2cff" font-family="Liberation Sans, sans-serif" textLength="46.0" lengthAdjust="spacingAndGlyphs" >58.9007</text>
<text x="575.1" y="640.4" font-size="12" fill="#5a5a5a" font-family="Liberation Sans, sans-serif" textLength="46.2" lengthAdjust="spacingAndGlyphs" >38.7808</text>
<text x="1860.0" y="607.65" font-size="8.5" fill="#777" font-family="Liberation Sans, sans-serif" textLength="23.9" lengthAdjust="spacingAndGlyphs" >1.2000</text>
<text x="1860.0" y="578.79" font-size="8.5" fill="#777" font-family="Liberation Sans, sans-serif" textLength="23.9" lengthAdjust="spacingAndGlyphs" >1.2100</text>
<text x="1860.0" y="549.94" font-size="8.5" fill="#777" font-family="Liberation Sans, sans-serif" textLength="23.9" lengthAdjust="spacingAndGlyphs" >1.2200</text>
<text x="1860.0" y="521.08" font-size="8.5" fill="#777" font-family="Liberation Sans, sans-serif" textLength="23.9" lengthAdjust="spacingAndGlyphs" >1.2300</text>
<text x="1860.0" y="492.22" font-size="8.5" fill="#777" font-family="Liberation Sans, sans-serif" textLength="23.9" lengthAdjust="spacingAndGlyphs" >1.2400</text>
<text x="1860.0" y="463.36" font-size="8.5" fill="#777" font-family="Liberation Sans, sans-serif" textLength="23.9" lengthAdjust="spacingAndGlyphs" >1.2500</text>
<text x="1860.0" y="434.5" font-size="8.5" fill="#777" font-family="Liberation Sans, sans-serif" textLength="23.9" lengthAdjust="spacingAndGlyphs" >1.2600</text>
<text x="1860.0" y="405.65" font-size="8.5" fill="#777" font-family="Liberation Sans, sans-serif" textLength="23.9" lengthAdjust="spacingAndGlyphs" >1.2700</text>
<text x="1860.0" y="376.79" font-size="8.5" fill="#777" font-family="Liberation Sans, sans-serif" textLength="23.9" lengthAdjust="spacingAndGlyphs" >1.2800</text>
<text x="1860.0" y="347.93" font-size="8.5" fill="#777" font-family="Liberation Sans, sans-serif" textLength="23.9" lengthAdjust="spacingAndGlyphs" >1.2900</text>
<text x="1860.0" y="319.07" font-size="8.5" fill="#777" font-family="Liberation Sans, sans-serif" textLength="23.9" lengthAdjust="spacingAndGlyphs" >1.3000</text>
<text x="1860.0" y="290.21" font-size="8.5" fill="#777" font-family="Liberation Sans, sans-serif" textLength="23.9" lengthAdjust="spacingAndGlyphs" >1.3100</text>
<text x="1860.0" y="261.36" font-size="8.5" fill="#777" font-family="Liberation Sans, sans-serif" textLength="23.9" lengthAdjust="spacingAndGlyphs" >1.3200</text>
<text x="1860.0" y="232.5" font-size="8.5" fill="#777" font-family="Liberation Sans, sans-serif" textLength="23.9" lengthAdjust="spacingAndGlyphs" >1.3300</text>
<text x="1860.0" y="203.64" font-size="8.5" fill="#777" font-family="Liberation Sans, sans-serif" textLength="23.9" lengthAdjust="spacingAndGlyphs" >1.3400</text>
<text x="1860.0" y="174.78" font-size="8.5" fill="#777" font-family="Liberation Sans, sans-serif" textLength="23.9" lengthAdjust="spacingAndGlyphs" >1.3500</text>
<text x="1860.0" y="145.92" font-size="8.5" fill="#777" font-family="Liberation Sans, sans-serif" textLength="23.9" lengthAdjust="spacingAndGlyphs" >1.3600</text>
<text x="1860.0" y="117.07" font-size="8.5" fill="#777" font-family="Liberation Sans, sans-serif" textLength="23.9" lengthAdjust="spacingAndGlyphs" >1.3700</text>
<text x="1860.0" y="88.21" font-size="8.5" fill="#777" font-family="Liberation Sans, sans-serif" textLength="23.9" lengthAdjust="spacingAndGlyphs" >1.3800</text>
<text x="1860.0" y="59.35" font-size="8.5" fill="#777" font-family="Liberation Sans, sans-serif" textLength="23.9" lengthAdjust="spacingAndGlyphs" >1.3900</text>
<text x="1860.0" y="849.8" font-size="8.5" fill="#777" font-family="Liberation Sans, sans-serif" textLength="23.9" lengthAdjust="spacingAndGlyphs" >0.0000</text>
<text x="1859.6" y="829.2" font-size="8.5" fill="#777" font-family="Liberation Sans, sans-serif" textLength="28.5" lengthAdjust="spacingAndGlyphs" >10.0000</text>
<text x="1859.6" y="808.5" font-size="8.5" fill="#777" font-family="Liberation Sans, sans-serif" textLength="28.5" lengthAdjust="spacingAndGlyphs" >20.0000</text>
<text x="1859.6" y="787.9" font-size="8.5" fill="#777" font-family="Liberation Sans, sans-serif" textLength="28.5" lengthAdjust="spacingAndGlyphs" >30.0000</text>
<text x="1859.6" y="767.2" font-size="8.5" fill="#777" font-family="Liberation Sans, sans-serif" textLength="28.5" lengthAdjust="spacingAndGlyphs" >40.0000</text>
<text x="1859.6" y="746.5" font-size="8.5" fill="#777" font-family="Liberation Sans, sans-serif" textLength="28.5" lengthAdjust="spacingAndGlyphs" >50.0000</text>
<text x="1859.6" y="705.2" font-size="8.5" fill="#777" font-family="Liberation Sans, sans-serif" textLength="28.5" lengthAdjust="spacingAndGlyphs" >70.0000</text>
<text x="1859.6" y="684.6" font-size="8.5" fill="#777" font-family="Liberation Sans, sans-serif" textLength="28.5" lengthAdjust="spacingAndGlyphs" >80.0000</text>
<text x="1859.6" y="663.8" font-size="8.5" fill="#777" font-family="Liberation Sans, sans-serif" textLength="28.5" lengthAdjust="spacingAndGlyphs" >90.0000</text>
<text x="1860.0" y="643.1" font-size="8.5" fill="#777" font-family="Liberation Sans, sans-serif" textLength="31.7" lengthAdjust="spacingAndGlyphs" >100.0000</text>
<g transform="translate(28.1,867.1) scale(0.91,1)"><text x="0" y="0" font-size="8.5" fill="#555" font-family="Liberation Sans, sans-serif" text-anchor="middle">May</text></g>
<g transform="translate(151.7,867.1) scale(0.91,1)"><text x="0" y="0" font-size="8.5" fill="#555" font-family="Liberation Sans, sans-serif" text-anchor="middle">Jun</text></g>
<g transform="translate(257.9,867.1) scale(0.91,1)"><text x="0" y="0" font-size="8.5" fill="#555" font-family="Liberation Sans, sans-serif" text-anchor="middle">Jul</text></g>
<g transform="translate(382.1,867.1) scale(0.91,1)"><text x="0" y="0" font-size="8.5" fill="#555" font-family="Liberation Sans, sans-serif" text-anchor="middle">Aug</text></g>
<g transform="translate(500.0,867.1) scale(0.91,1)"><text x="0" y="0" font-size="8.5" fill="#555" font-family="Liberation Sans, sans-serif" text-anchor="middle">Sep</text></g>
<g transform="translate(612.9,867.1) scale(0.91,1)"><text x="0" y="0" font-size="8.5" fill="#555" font-family="Liberation Sans, sans-serif" text-anchor="middle">Oct</text></g>
<g transform="translate(736.6,867.1) scale(0.91,1)"><text x="0" y="0" font-size="8.5" fill="#555" font-family="Liberation Sans, sans-serif" text-anchor="middle">Nov</text></g>
<g transform="translate(849.2,867.1) scale(0.91,1)"><text x="0" y="0" font-size="8.5" fill="#555" font-family="Liberation Sans, sans-serif" text-anchor="middle">Dec</text></g>
<g transform="translate(968.1,867.1) scale(0.91,1)"><text x="0" y="0" font-size="8.5" fill="#222" font-family="Liberation Sans, sans-serif" text-anchor="middle" font-weight="bold">2025</text></g>
<g transform="translate(1090.7,867.1) scale(0.91,1)"><text x="0" y="0" font-size="8.5" fill="#555" font-family="Liberation Sans, sans-serif" text-anchor="middle">Feb</text></g>
<g transform="translate(1198.5,867.1) scale(0.91,1)"><text x="0" y="0" font-size="8.5" fill="#555" font-family="Liberation Sans, sans-serif" text-anchor="middle">Mar</text></g>
<g transform="translate(1311.5,867.1) scale(0.91,1)"><text x="0" y="0" font-size="8.5" fill="#555" font-family="Liberation Sans, sans-serif" text-anchor="middle">Apr</text></g>
<g transform="translate(1429.1,867.1) scale(0.91,1)"><text x="0" y="0" font-size="8.5" fill="#555" font-family="Liberation Sans, sans-serif" text-anchor="middle">May</text></g>
<g transform="translate(1548.0,867.1) scale(0.91,1)"><text x="0" y="0" font-size="8.5" fill="#555" font-family="Liberation Sans, sans-serif" text-anchor="middle">Jun</text></g>
<g transform="translate(1660.5,867.1) scale(0.91,1)"><text x="0" y="0" font-size="8.5" fill="#555" font-family="Liberation Sans, sans-serif" text-anchor="middle">Jul</text></g>
<g transform="translate(1783.1,867.1) scale(0.91,1)"><text x="0" y="0" font-size="8.5" fill="#555" font-family="Liberation Sans, sans-serif" text-anchor="middle">Aug</text></g>
<g transform="translate(1852.6,867.1) scale(0.91,1)"><text x="0" y="0" font-size="8.5" fill="#555" font-family="Liberation Sans, sans-serif" text-anchor="end">19</text></g>
<path d="M1855.5,186.0 H1885 Q1887,186.0 1887,188.0 V194.9 Q1887,196.9 1885,196.9 H1855.5 Z" fill="#2b2bff"/>
<text x="1860.6" y="194.3" font-size="8.5" fill="#fff" font-family="Liberation Sans, sans-serif" textLength="23.6" lengthAdjust="spacingAndGlyphs" stroke="#fff" stroke-width="0.2">1.3433</text>
<path d="M1855.5,198.1 H1885 Q1887,198.1 1887,200.1 V206.7 Q1887,208.7 1885,208.7 H1855.5 Z" fill="#e91e5f"/>
<text x="1860.6" y="206.3" font-size="8.5" fill="#fff" font-family="Liberation Sans, sans-serif" textLength="23.6" lengthAdjust="spacingAndGlyphs" stroke="#fff" stroke-width="0.2">1.3426</text>
<path d="M1855.5,701.0 H1890 Q1892,701.0 1892,703.0 V709.4 Q1892,711.4 1890,711.4 H1855.5 Z" fill="#3030ff"/>
<text x="1860.6" y="709.1" font-size="8.5" fill="#fff" font-family="Liberation Sans, sans-serif" textLength="28.4" lengthAdjust="spacingAndGlyphs" stroke="#fff" stroke-width="0.2">68.2449</text>
<path d="M1855.5,720.4 H1890 Q1892,720.4 1892,722.4 V729.0 Q1892,731.0 1890,731.0 H1855.5 Z" fill="#ff00ff"/>
<text x="1860.6" y="728.6" font-size="8.5" fill="#fff" font-family="Liberation Sans, sans-serif" textLength="28.4" lengthAdjust="spacingAndGlyphs" stroke="#fff" stroke-width="0.2">58.9007</text>
<path d="M1855.5,750.2 H1890 Q1892,750.2 1892,752.2 V758.8 Q1892,760.8 1890,760.8 H1855.5 Z" fill="#17714f"/>
<text x="1860.6" y="758.4" font-size="8.5" fill="#fff" font-family="Liberation Sans, sans-serif" textLength="28.4" lengthAdjust="spacingAndGlyphs" stroke="#fff" stroke-width="0.2">44.3494</text>
<path d="M1855.5,762.2 H1890 Q1892,762.2 1892,764.2 V770.6 Q1892,772.6 1890,772.6 H1855.5 Z" fill="#555555"/>
<text x="1860.6" y="770.3" font-size="8.5" fill="#fff" font-family="Liberation Sans, sans-serif" textLength="28.4" lengthAdjust="spacingAndGlyphs" stroke="#fff" stroke-width="0.2">38.7808</text>
<rect x="1858.9" y="13.9" width="43.3" height="25.9" rx="4.5" fill="#fff" stroke="#ededed" stroke-width="1.2"/>
<text x="1867.6" y="31.8" font-size="12" fill="#4a4a4a" font-family="Liberation Sans, sans-serif" textLength="20.6" lengthAdjust="spacingAndGlyphs" stroke="#4a4a4a" stroke-width="0.3">USD</text>
<defs><filter id="lb" x="-10%" y="-10%" width="120%" height="120%"><feGaussianBlur stdDeviation="0.45"/></filter></defs><g fill="#0a14ff" filter="url(#lb)" shape-rendering="crispEdges"><rect x="1833" y="884.6" width="1" height="1" fill-opacity="0.5"/><rect x="1838" y="884.6" width="1" height="1" fill-opacity="0.5"/><rect x="1855" y="884.6" width="1" height="1" fill-opacity="0.5"/><rect x="1833" y="885.6" width="1" height="1" fill-opacity="1"/><rect x="1837" y="885.6" width="1" height="1" fill-opacity="0.5"/><rect x="1838" y="885.6" width="1" height="1" fill-opacity="1"/><rect x="1854" y="885.6" width="1" height="1" fill-opacity="0.5"/><rect x="1855" y="885.6" width="1" height="1" fill-opacity="1"/><rect x="1856" y="885.6" width="1" height="1" fill-opacity="1"/><rect x="1857" y="885.6" width="1" height="1" fill-opacity="0.5"/><rect x="1833" y="886.6" width="1" height="1" fill-opacity="1"/><rect x="1834" y="886.6" width="1" height="1" fill-opacity="0.5"/><rect x="1836" y="886.6" width="1" height="1" fill-opacity="0.5"/><rect x="1837" y="886.6" width="1" height="1" fill-opacity="1"/><rect x="1838" y="886.6" width="1" height="1" fill-opacity="1"/><rect x="1839" y="886.6" width="1" height="1" fill-opacity="0.5"/><rect x="1842" y="886.6" width="1" height="1" fill-opacity="0.5"/><rect x="1851" y="886.6" width="1" height="1" fill-opacity="0.5"/><rect x="1854" y="886.6" width="1" height="1" fill-opacity="1"/><rect x="1855" y="886.6" width="1" height="1" fill-opacity="1"/><rect x="1856" y="886.6" width="1" height="1" fill-opacity="0.5"/><rect x="1857" y="886.6" width="1" height="1" fill-opacity="1"/><rect x="1858" y="886.6" width="1" height="1" fill-opacity="1"/><rect x="1859" y="886.6" width="1" height="1" fill-opacity="0.5"/><rect x="1832" y="887.6" width="1" height="1" fill-opacity="0.5"/><rect x="1833" y="887.6" width="1" height="1" fill-opacity="1"/><rect x="1834" y="887.6" width="1" height="1" fill-opacity="1"/><rect x="1835" y="887.6" width="1" height="1" fill-opacity="0.5"/><rect x="1836" y="887.6" width="1" height="1" fill-opacity="1"/><rect x="1837" y="887.6" width="1" height="1" fill-opacity="1"/><rect x="1838" y="887.6" width="1" height="1" fill-opacity="1"/><rect x="1839" y="887.6" width="1" height="1" fill-opacity="1"/><rect x="1840" y="887.6" width="1" height="1" fill-opacity="0.5"/><rect x="1842" y="887.6" width="1" height="1" fill-opacity="1"/><rect x="1843" y="887.6" width="1" height="1" fill-opacity="0.5"/><rect x="1851" y="887.6" width="1" height="1" fill-opacity="1"/><rect x="1853" y="887.6" width="1" height="1" fill-opacity="0.5"/><rect x="1854" y="887.6" width="1" height="1" fill-opacity="1"/><rect x="1855" y="887.6" width="1" height="1" fill-opacity="1"/><rect x="1856" y="887.6" width="1" height="1" fill-opacity="1"/><rect x="1857" y="887.6" width="1" height="1" fill-opacity="0.5"/><rect x="1858" y="887.6" width="1" height="1" fill-opacity="1"/><rect x="1859" y="887.6" width="1" height="1" fill-opacity="1"/><rect x="1860" y="887.6" width="1" height="1" fill-opacity="0.5"/><rect x="1832" y="888.6" width="1" height="1" fill-opacity="1"/><rect x="1833" y="888.6" width="1" height="1" fill-opacity="1"/><rect x="1834" y="888.6" width="1" height="1" fill-opacity="1"/><rect x="1835" y="888.6" width="1" height="1" fill-opacity="1"/><rect x="1836" y="888.6" width="1" height="1" fill-opacity="1"/><rect x="1837" y="888.6" width="1" height="1" fill-opacity="1"/><rect x="1838" y="888.6" width="1" height="1" fill-opacity="1"/><rect x="1839" y="888.6" width="1" height="1" fill-opacity="1"/><rect x="1840" y="888.6" width="1" height="1" fill-opacity="1"/><rect x="1841" y="888.6" width="1" height="1" fill-opacity="0.5"/><rect x="1842" y="888.6" width="1" height="1" fill-opacity="0.5"/><rect x="1843" y="888.6" width="1" height="1" fill-opacity="1"/><rect x="1844" y="888.6" width="1" height="1" fill-opacity="1"/><rect x="1845" y="888.6" width="1" height="1" fill-opacity="1"/><rect x="1846" y="888.6" width="1" height="1" fill-opacity="1"/><rect x="1847" y="888.6" width="1" height="1" fill-opacity="1"/><rect x="1848" y="888.6" width="1" height="1" fill-opacity="1"/><rect x="1849" y="888.6" width="1" height="1" fill-opacity="1"/><rect x="1850" y="888.6" width="1" height="1" fill-opacity="0.5"/><rect x="1851" y="888.6" width="1" height="1" fill-opacity="1"/><rect x="1852" y="888.6" width="1" height="1" fill-opacity="1"/><rect x="1853" y="888.6" width="1" height="1" fill-opacity="1"/><rect x="1854" y="888.6" width="1" height="1" fill-opacity="1"/><rect x="1855" y="888.6" width="1" height="1" fill-opacity="1"/><rect x="1856" y="888.6" width="1" height="1" fill-opacity="1"/><rect x="1857" y="888.6" width="1" height="1" fill-opacity="0.5"/><rect x="1858" y="888.6" width="1" height="1" fill-opacity="1"/><rect x="1859" y="888.6" width="1" height="1" fill-opacity="1"/><rect x="1860" y="888.6" width="1" height="1" fill-opacity="1"/><rect x="1832" y="889.6" width="1" height="1" fill-opacity="1"/><rect x="1833" y="889.6" width="1" height="1" fill-opacity="1"/><rect x="1834" y="889.6" width="1" height="1" fill-opacity="1"/><rect x="1835" y="889.6" width="1" height="1" fill-opacity="1"/><rect x="1836" y="889.6" width="1" height="1" fill-opacity="0.5"/><rect x="1837" y="889.6" width="1" height="1" fill-opacity="0.5"/><rect x="1838" y="889.6" width="1" height="1" fill-opacity="1"/><rect x="1839" y="889.6" width="1" height="1" fill-opacity="1"/><rect x="1840" y="889.6" width="1" height="1" fill-opacity="1"/><rect x="1841" y="889.6" width="1" height="1" fill-opacity="1"/><rect x="1842" y="889.6" width="1" height="1" fill-opacity="1"/><rect x="1843" y="889.6" width="1" height="1" fill-opacity="1"/><rect x="1844" y="889.6" width="1" height="1" fill-opacity="1"/><rect x="1845" y="889.6" width="1" height="1" fill-opacity="0.5"/><rect x="1846" y="889.6" width="1" height="1" fill-opacity="0.5"/><rect x="1847" y="889.6" width="1" height="1" fill-opacity="0.5"/><rect x="1848" y="889.6" width="1" height="1" fill-opacity="1"/><rect x="1849" y="889.6" width="1" height="1" fill-opacity="1"/><rect x="1850" y="889.6" width="1" height="1" fill-opacity="1"/><rect x="1851" y="889.6" width="1" height="1" fill-opacity="1"/><rect x="1852" y="889.6" width="1" height="1" fill-opacity="0.5"/><rect x="1853" y="889.6" width="1" height="1" fill-opacity="1"/><rect x="1854" y="889.6" width="1" height="1" fill-opacity="1"/><rect x="1855" y="889.6" width="1" height="1" fill-opacity="1"/><rect x="1856" y="889.6" width="1" height="1" fill-opacity="0.5"/><rect x="1857" y="889.6" width="1" height="1" fill-opacity="1"/><rect x="1858" y="889.6" width="1" height="1" fill-opacity="1"/><rect x="1859" y="889.6" width="1" height="1" fill-opacity="1"/><rect x="1860" y="889.6" width="1" height="1" fill-opacity="0.5"/><rect x="1833" y="890.6" width="1" height="1" fill-opacity="1"/><rect x="1834" y="890.6" width="1" height="1" fill-opacity="1"/><rect x="1835" y="890.6" width="1" height="1" fill-opacity="1"/><rect x="1836" y="890.6" width="1" height="1" fill-opacity="0.5"/><rect x="1837" y="890.6" width="1" height="1" fill-opacity="1"/><rect x="1838" y="890.6" width="1" height="1" fill-opacity="1"/><rect x="1839" y="890.6" width="1" height="1" fill-opacity="1"/><rect x="1840" y="890.6" width="1" height="1" fill-opacity="1"/><rect x="1841" y="890.6" width="1" height="1" fill-opacity="1"/><rect x="1842" y="890.6" width="1" height="1" fill-opacity="1"/><rect x="1843" y="890.6" width="1" height="1" fill-opacity="1"/><rect x="1844" y="890.6" width="1" height="1" fill-opacity="1"/><rect x="1845" y="890.6" width="1" height="1" fill-opacity="0.5"/><rect x="1847" y="890.6" width="1" height="1" fill-opacity="0.5"/><rect x="1848" y="890.6" width="1" height="1" fill-opacity="1"/><rect x="1849" y="890.6" width="1" height="1" fill-opacity="1"/><rect x="1850" y="890.6" width="1" height="1" fill-opacity="1"/><rect x="1851" y="890.6" width="1" height="1" fill-opacity="1"/><rect x="1852" y="890.6" width="1" height="1" fill-opacity="0.5"/><rect x="1853" y="890.6" width="1" height="1" fill-opacity="1"/><rect x="1854" y="890.6" width="1" height="1" fill-opacity="1"/><rect x="1855" y="890.6" width="1" height="1" fill-opacity="1"/><rect x="1856" y="890.6" width="1" height="1" fill-opacity="1"/><rect x="1857" y="890.6" width="1" height="1" fill-opacity="1"/><rect x="1858" y="890.6" width="1" height="1" fill-opacity="1"/><rect x="1859" y="890.6" width="1" height="1" fill-opacity="1"/><rect x="1834" y="891.6" width="1" height="1" fill-opacity="1"/><rect x="1835" y="891.6" width="1" height="1" fill-opacity="1"/><rect x="1836" y="891.6" width="1" height="1" fill-opacity="1"/><rect x="1837" y="891.6" width="1" height="1" fill-opacity="1"/><rect x="1838" y="891.6" width="1" height="1" fill-opacity="0.5"/><rect x="1839" y="891.6" width="1" height="1" fill-opacity="1"/><rect x="1840" y="891.6" width="1" height="1" fill-opacity="1"/><rect x="1841" y="891.6" width="1" height="1" fill-opacity="1"/><rect x="1842" y="891.6" width="1" height="1" fill-opacity="1"/><rect x="1843" y="891.6" width="1" height="1" fill-opacity="1"/><rect x="1844" y="891.6" width="1" height="1" fill-opacity="0.5"/><rect x="1847" y="891.6" width="1" height="1" fill-opacity="0.5"/><rect x="1848" y="891.6" width="1" height="1" fill-opacity="1"/><rect x="1849" y="891.6" width="1" height="1" fill-opacity="1"/><rect x="1850" y="891.6" width="1" height="1" fill-opacity="1"/><rect x="1851" y="891.6" width="1" height="1" fill-opacity="1"/><rect x="1852" y="891.6" width="1" height="1" fill-opacity="1"/><rect x="1853" y="891.6" width="1" height="1" fill-opacity="1"/><rect x="1854" y="891.6" width="1" height="1" fill-opacity="1"/><rect x="1855" y="891.6" width="1" height="1" fill-opacity="1"/><rect x="1856" y="891.6" width="1" height="1" fill-opacity="1"/><rect x="1857" y="891.6" width="1" height="1" fill-opacity="1"/><rect x="1858" y="891.6" width="1" height="1" fill-opacity="1"/><rect x="1834" y="892.6" width="1" height="1" fill-opacity="0.5"/><rect x="1835" y="892.6" width="1" height="1" fill-opacity="1"/><rect x="1836" y="892.6" width="1" height="1" fill-opacity="1"/><rect x="1837" y="892.6" width="1" height="1" fill-opacity="1"/><rect x="1838" y="892.6" width="1" height="1" fill-opacity="1"/><rect x="1839" y="892.6" width="1" height="1" fill-opacity="0.5"/><rect x="1841" y="892.6" width="1" height="1" fill-opacity="1"/><rect x="1842" y="892.6" width="1" height="1" fill-opacity="1"/><rect x="1843" y="892.6" width="1" height="1" fill-opacity="1"/><rect x="1845" y="892.6" width="1" height="1" fill-opacity="0.5"/><rect x="1848" y="892.6" width="1" height="1" fill-opacity="1"/><rect x="1849" y="892.6" width="1" height="1" fill-opacity="1"/><rect x="1850" y="892.6" width="1" height="1" fill-opacity="1"/><rect x="1851" y="892.6" width="1" height="1" fill-opacity="0.5"/><rect x="1852" y="892.6" width="1" height="1" fill-opacity="1"/><rect x="1853" y="892.6" width="1" height="1" fill-opacity="1"/><rect x="1854" y="892.6" width="1" height="1" fill-opacity="1"/><rect x="1855" y="892.6" width="1" height="1" fill-opacity="1"/><rect x="1856" y="892.6" width="1" height="1" fill-opacity="1"/><rect x="1857" y="892.6" width="1" height="1" fill-opacity="0.5"/><rect x="1832" y="893.6" width="1" height="1" fill-opacity="0.5"/><rect x="1833" y="893.6" width="1" height="1" fill-opacity="1"/><rect x="1834" y="893.6" width="1" height="1" fill-opacity="0.5"/><rect x="1836" y="893.6" width="1" height="1" fill-opacity="1"/><rect x="1837" y="893.6" width="1" height="1" fill-opacity="1"/><rect x="1838" y="893.6" width="1" height="1" fill-opacity="1"/><rect x="1840" y="893.6" width="1" height="1" fill-opacity="0.5"/><rect x="1841" y="893.6" width="1" height="1" fill-opacity="1"/><rect x="1842" y="893.6" width="1" height="1" fill-opacity="1"/><rect x="1843" y="893.6" width="1" height="1" fill-opacity="0.5"/><rect x="1845" y="893.6" width="1" height="1" fill-opacity="0.5"/><rect x="1846" y="893.6" width="1" height="1" fill-opacity="1"/><rect x="1847" y="893.6" width="1" height="1" fill-opacity="0.5"/><rect x="1848" y="893.6" width="1" height="1" fill-opacity="1"/><rect x="1849" y="893.6" width="1" height="1" fill-opacity="1"/><rect x="1850" y="893.6" width="1" height="1" fill-opacity="1"/><rect x="1851" y="893.6" width="1" height="1" fill-opacity="1"/><rect x="1854" y="893.6" width="1" height="1" fill-opacity="0.5"/><rect x="1855" y="893.6" width="1" height="1" fill-opacity="1"/><rect x="1856" y="893.6" width="1" height="1" fill-opacity="1"/><rect x="1857" y="893.6" width="1" height="1" fill-opacity="1"/><rect x="1859" y="893.6" width="1" height="1" fill-opacity="1"/><rect x="1860" y="893.6" width="1" height="1" fill-opacity="1"/><rect x="1832" y="894.6" width="1" height="1" fill-opacity="1"/><rect x="1834" y="894.6" width="1" height="1" fill-opacity="1"/><rect x="1836" y="894.6" width="1" height="1" fill-opacity="1"/><rect x="1837" y="894.6" width="1" height="1" fill-opacity="1"/><rect x="1838" y="894.6" width="1" height="1" fill-opacity="0.5"/><rect x="1841" y="894.6" width="1" height="1" fill-opacity="1"/><rect x="1842" y="894.6" width="1" height="1" fill-opacity="0.5"/><rect x="1844" y="894.6" width="1" height="1" fill-opacity="0.5"/><rect x="1845" y="894.6" width="1" height="1" fill-opacity="1"/><rect x="1846" y="894.6" width="1" height="1" fill-opacity="0.5"/><rect x="1847" y="894.6" width="1" height="1" fill-opacity="0.5"/><rect x="1848" y="894.6" width="1" height="1" fill-opacity="1"/><rect x="1849" y="894.6" width="1" height="1" fill-opacity="1"/><rect x="1850" y="894.6" width="1" height="1" fill-opacity="0.5"/><rect x="1852" y="894.6" width="1" height="1" fill-opacity="0.5"/><rect x="1853" y="894.6" width="1" height="1" fill-opacity="1"/><rect x="1854" y="894.6" width="1" height="1" fill-opacity="1"/><rect x="1855" y="894.6" width="1" height="1" fill-opacity="1"/><rect x="1856" y="894.6" width="1" height="1" fill-opacity="1"/><rect x="1857" y="894.6" width="1" height="1" fill-opacity="0.5"/><rect x="1859" y="894.6" width="1" height="1" fill-opacity="1"/><rect x="1836" y="895.6" width="1" height="1" fill-opacity="1"/><rect x="1837" y="895.6" width="1" height="1" fill-opacity="1"/><rect x="1839" y="895.6" width="1" height="1" fill-opacity="1"/><rect x="1840" y="895.6" width="1" height="1" fill-opacity="1"/><rect x="1841" y="895.6" width="1" height="1" fill-opacity="0.5"/><rect x="1842" y="895.6" width="1" height="1" fill-opacity="1"/><rect x="1843" y="895.6" width="1" height="1" fill-opacity="1"/><rect x="1844" y="895.6" width="1" height="1" fill-opacity="0.5"/><rect x="1845" y="895.6" width="1" height="1" fill-opacity="0.5"/><rect x="1846" y="895.6" width="1" height="1" fill-opacity="0.5"/><rect x="1847" y="895.6" width="1" height="1" fill-opacity="0.5"/><rect x="1848" y="895.6" width="1" height="1" fill-opacity="0.5"/><rect x="1849" y="895.6" width="1" height="1" fill-opacity="1"/><rect x="1850" y="895.6" width="1" height="1" fill-opacity="1"/><rect x="1851" y="895.6" width="1" height="1" fill-opacity="1"/><rect x="1853" y="895.6" width="1" height="1" fill-opacity="0.5"/><rect x="1854" y="895.6" width="1" height="1" fill-opacity="1"/><rect x="1855" y="895.6" width="1" height="1" fill-opacity="1"/><rect x="1856" y="895.6" width="1" height="1" fill-opacity="1"/><rect x="1857" y="895.6" width="1" height="1" fill-opacity="1"/><rect x="1858" y="895.6" width="1" height="1" fill-opacity="0.5"/><rect x="1859" y="895.6" width="1" height="1" fill-opacity="1"/><rect x="1835" y="896.6" width="1" height="1" fill-opacity="0.5"/><rect x="1836" y="896.6" width="1" height="1" fill-opacity="1"/><rect x="1837" y="896.6" width="1" height="1" fill-opacity="0.5"/><rect x="1839" y="896.6" width="1" height="1" fill-opacity="1"/><rect x="1840" y="896.6" width="1" height="1" fill-opacity="1"/><rect x="1841" y="896.6" width="1" height="1" fill-opacity="0.5"/><rect x="1843" y="896.6" width="1" height="1" fill-opacity="1"/><rect x="1844" y="896.6" width="1" height="1" fill-opacity="1"/><rect x="1845" y="896.6" width="1" height="1" fill-opacity="0.5"/><rect x="1846" y="896.6" width="1" height="1" fill-opacity="1"/><rect x="1847" y="896.6" width="1" height="1" fill-opacity="1"/><rect x="1848" y="896.6" width="1" height="1" fill-opacity="1"/><rect x="1849" y="896.6" width="1" height="1" fill-opacity="1"/><rect x="1850" y="896.6" width="1" height="1" fill-opacity="0.5"/><rect x="1851" y="896.6" width="1" height="1" fill-opacity="1"/><rect x="1852" y="896.6" width="1" height="1" fill-opacity="1"/><rect x="1853" y="896.6" width="1" height="1" fill-opacity="0.5"/><rect x="1855" y="896.6" width="1" height="1" fill-opacity="1"/><rect x="1856" y="896.6" width="1" height="1" fill-opacity="1"/><rect x="1857" y="896.6" width="1" height="1" fill-opacity="1"/><rect x="1858" y="896.6" width="1" height="1" fill-opacity="0.5"/><rect x="1859" y="896.6" width="1" height="1" fill-opacity="0.5"/><rect x="1834" y="897.6" width="1" height="1" fill-opacity="0.5"/><rect x="1835" y="897.6" width="1" height="1" fill-opacity="1"/><rect x="1836" y="897.6" width="1" height="1" fill-opacity="1"/><rect x="1839" y="897.6" width="1" height="1" fill-opacity="1"/><rect x="1840" y="897.6" width="1" height="1" fill-opacity="1"/><rect x="1841" y="897.6" width="1" height="1" fill-opacity="1"/><rect x="1843" y="897.6" width="1" height="1" fill-opacity="1"/><rect x="1844" y="897.6" width="1" height="1" fill-opacity="1"/><rect x="1845" y="897.6" width="1" height="1" fill-opacity="1"/><rect x="1846" y="897.6" width="1" height="1" fill-opacity="1"/><rect x="1847" y="897.6" width="1" height="1" fill-opacity="1"/><rect x="1848" y="897.6" width="1" height="1" fill-opacity="1"/><rect x="1849" y="897.6" width="1" height="1" fill-opacity="1"/><rect x="1850" y="897.6" width="1" height="1" fill-opacity="0.5"/><rect x="1852" y="897.6" width="1" height="1" fill-opacity="1"/><rect x="1853" y="897.6" width="1" height="1" fill-opacity="1"/><rect x="1856" y="897.6" width="1" height="1" fill-opacity="1"/><rect x="1857" y="897.6" width="1" height="1" fill-opacity="1"/><rect x="1835" y="898.6" width="1" height="1" fill-opacity="1"/><rect x="1836" y="898.6" width="1" height="1" fill-opacity="1"/><rect x="1837" y="898.6" width="1" height="1" fill-opacity="0.5"/><rect x="1843" y="898.6" width="1" height="1" fill-opacity="1"/><rect x="1844" y="898.6" width="1" height="1" fill-opacity="1"/><rect x="1845" y="898.6" width="1" height="1" fill-opacity="1"/><rect x="1846" y="898.6" width="1" height="1" fill-opacity="1"/><rect x="1847" y="898.6" width="1" height="1" fill-opacity="1"/><rect x="1848" y="898.6" width="1" height="1" fill-opacity="1"/><rect x="1849" y="898.6" width="1" height="1" fill-opacity="1"/><rect x="1850" y="898.6" width="1" height="1" fill-opacity="1"/><rect x="1852" y="898.6" width="1" height="1" fill-opacity="0.5"/><rect x="1856" y="898.6" width="1" height="1" fill-opacity="1"/><rect x="1857" y="898.6" width="1" height="1" fill-opacity="1"/><rect x="1835" y="899.6" width="1" height="1" fill-opacity="1"/><rect x="1836" y="899.6" width="1" height="1" fill-opacity="1"/><rect x="1837" y="899.6" width="1" height="1" fill-opacity="1"/><rect x="1843" y="899.6" width="1" height="1" fill-opacity="0.5"/><rect x="1844" y="899.6" width="1" height="1" fill-opacity="1"/><rect x="1845" y="899.6" width="1" height="1" fill-opacity="1"/><rect x="1846" y="899.6" width="1" height="1" fill-opacity="1"/><rect x="1847" y="899.6" width="1" height="1" fill-opacity="1"/><rect x="1848" y="899.6" width="1" height="1" fill-opacity="1"/><rect x="1849" y="899.6" width="1" height="1" fill-opacity="1"/><rect x="1850" y="899.6" width="1" height="1" fill-opacity="0.5"/><rect x="1855" y="899.6" width="1" height="1" fill-opacity="1"/><rect x="1856" y="899.6" width="1" height="1" fill-opacity="1"/><rect x="1857" y="899.6" width="1" height="1" fill-opacity="0.5"/><rect x="1835" y="900.6" width="1" height="1" fill-opacity="1"/><rect x="1836" y="900.6" width="1" height="1" fill-opacity="0.5"/><rect x="1838" y="900.6" width="1" height="1" fill-opacity="0.5"/><rect x="1844" y="900.6" width="1" height="1" fill-opacity="0.5"/><rect x="1845" y="900.6" width="1" height="1" fill-opacity="1"/><rect x="1846" y="900.6" width="1" height="1" fill-opacity="1"/><rect x="1847" y="900.6" width="1" height="1" fill-opacity="1"/><rect x="1848" y="900.6" width="1" height="1" fill-opacity="1"/><rect x="1849" y="900.6" width="1" height="1" fill-opacity="0.5"/><rect x="1855" y="900.6" width="1" height="1" fill-opacity="1"/><rect x="1856" y="900.6" width="1" height="1" fill-opacity="1"/><rect x="1835" y="901.6" width="1" height="1" fill-opacity="0.5"/><rect x="1838" y="901.6" width="1" height="1" fill-opacity="1"/><rect x="1839" y="901.6" width="1" height="1" fill-opacity="1"/><rect x="1840" y="901.6" width="1" height="1" fill-opacity="0.5"/><rect x="1843" y="901.6" width="1" height="1" fill-opacity="1"/><rect x="1850" y="901.6" width="1" height="1" fill-opacity="1"/><rect x="1851" y="901.6" width="1" height="1" fill-opacity="0.5"/><rect x="1854" y="901.6" width="1" height="1" fill-opacity="0.5"/><rect x="1856" y="901.6" width="1" height="1" fill-opacity="0.5"/><rect x="1839" y="902.6" width="1" height="1" fill-opacity="1"/><rect x="1840" y="902.6" width="1" height="1" fill-opacity="0.5"/><rect x="1843" y="902.6" width="1" height="1" fill-opacity="0.5"/><rect x="1847" y="902.6" width="1" height="1" fill-opacity="0.5"/><rect x="1848" y="902.6" width="1" height="1" fill-opacity="0.5"/><rect x="1850" y="902.6" width="1" height="1" fill-opacity="1"/><rect x="1851" y="902.6" width="1" height="1" fill-opacity="1"/><rect x="1854" y="902.6" width="1" height="1" fill-opacity="1"/><rect x="1846" y="903.6" width="1" height="1" fill-opacity="1"/><rect x="1847" y="903.6" width="1" height="1" fill-opacity="1"/></g><text x="1866.6" y="900.2" font-size="15" font-weight="bold" fill="#0a14ff" font-family="Liberation Sans, sans-serif" textLength="38.8" lengthAdjust="spacingAndGlyphs">LSEG</text>
</svg>
</body></html>
